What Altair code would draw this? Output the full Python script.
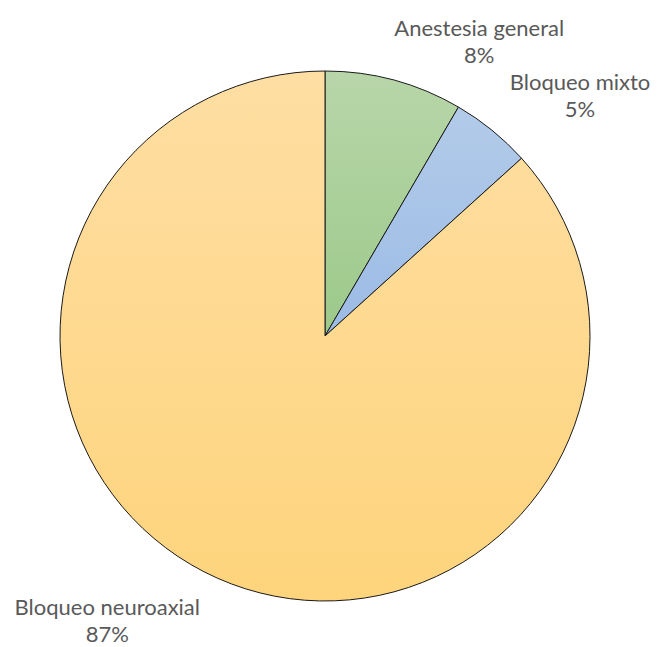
import altair as alt
import pandas as pd

categories = ["Anestesia general", "Bloqueo mixto", "Bloqueo neuroaxial"]
values = [8.4, 4.9, 86.7]
order = [0, 1, 2]

df = pd.DataFrame({"category": categories, "value": values, "order": order})

gradients = {
    "Anestesia general": ("#b8d6a9", "#9cc98a"),
    "Bloqueo mixto": ("#b3cbe9", "#9bbbe5"),
    "Bloqueo neuroaxial": ("#fedea3", "#fed47c"),
}
label_offsets = {
    "Anestesia general": (76, -10),
    "Bloqueo mixto": (66, -13),
    "Bloqueo neuroaxial": (-96, 5),
}

base = (
    alt.Chart(df)
    .transform_window(end="sum(value)", sort=[alt.SortField("order")], frame=[None, 0])
    .transform_calculate(
        start="datum.end - datum.value",
        mid="datum.end - datum.value / 2",
        label="datum.category + '\\n' + round(datum.value) + '%'",
    )
)

theta_scale = alt.Scale(domain=[0, 100])
layers = []
for cat in categories:
    top, bottom = gradients[cat]
    grad = alt.Gradient(
        gradient="linear",
        stops=[alt.GradientStop(color=top, offset=0), alt.GradientStop(color=bottom, offset=1)],
        x1=0, x2=0, y1=0, y2=1,
    )
    layers.append(
        base.transform_filter(alt.datum.category == cat)
        .mark_arc(fill=grad, stroke="#1a1a1a", strokeWidth=1)
        .encode(
            theta=alt.Theta("start:Q", scale=theta_scale),
            theta2="end:Q",
        )
    )

for cat in categories:
    dx, dy = label_offsets[cat]
    layers.append(
        base.transform_filter(alt.datum.category == cat)
        .mark_text(
            font="Lato", fontSize=22, color="#595959", lineBreak="\n",
            lineHeight=27, align="center", baseline="alphabetic", dx=dx, dy=dy,
        )
        .encode(
            theta=alt.Theta("mid:Q", scale=theta_scale),
            radius=alt.value(300),
            text="label:N",
        )
    )

chart = (
    alt.layer(*layers)
    .properties(
        width=530,
        height=530,
        padding={"left": 60, "top": 71, "right": 67, "bottom": 46},
        autosize=alt.AutoSizeParams(type="none"),
    )
    .configure_view(stroke=None)
)

chart.save("out.html", embed_options={"renderer": "svg", "actions": False})
